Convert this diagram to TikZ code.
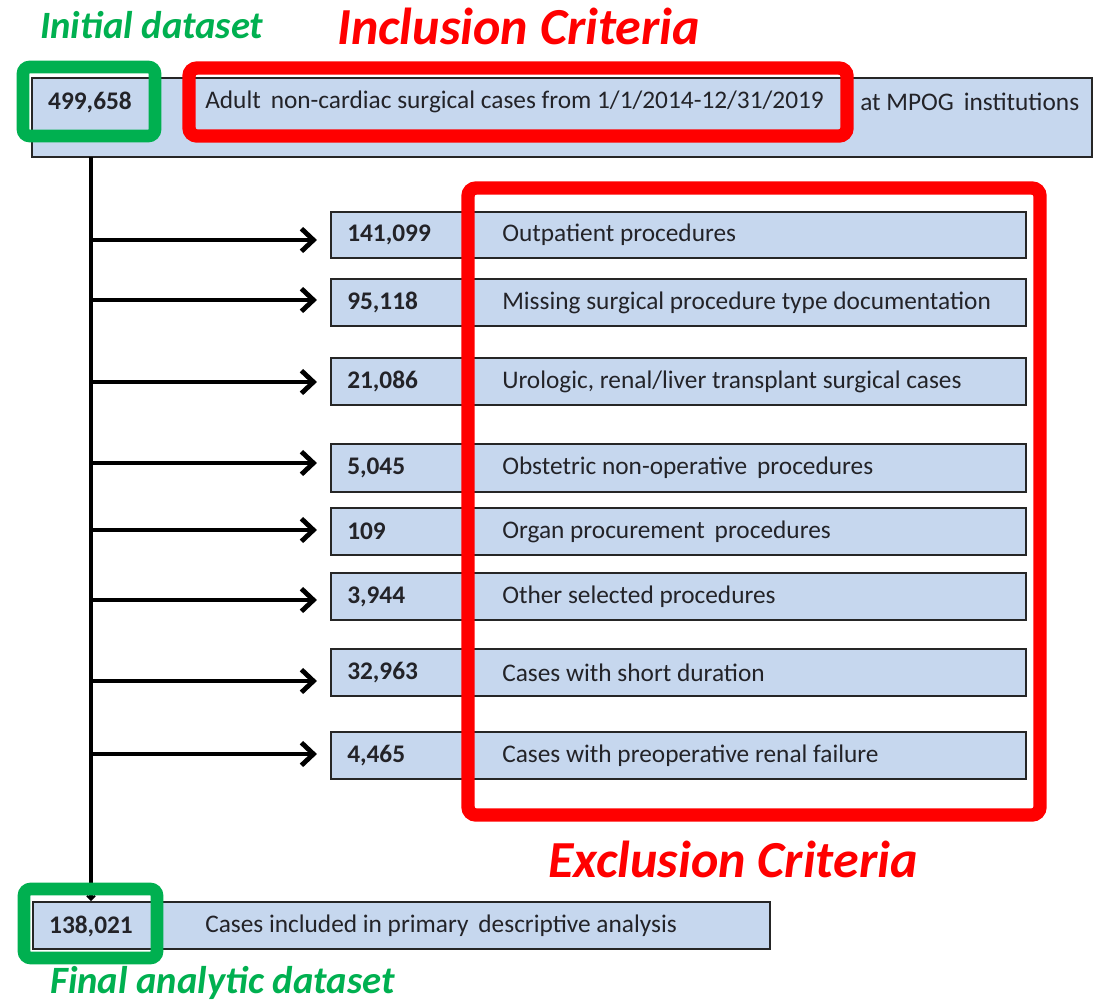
\documentclass[tikz,border=0pt]{standalone}
\usepackage{fontspec}
\setmainfont{Carlito}
\usetikzlibrary{arrows.meta,fit}
\definecolor{boxblue}{RGB}{198,215,238}
\definecolor{mgreen}{RGB}{0,176,80}
\definecolor{mred}{RGB}{255,0,0}
\definecolor{txt}{RGB}{35,35,40}
\begin{document}
\begin{tikzpicture}[x=0.75pt,y=-0.75pt,
  box/.style={draw=black!85, line width=1.1pt, fill=boxblue, inner sep=0pt},
  num/.style={font=\fontsize{19}{22}\selectfont\bfseries, text=txt, inner sep=0pt},
  desc/.style={font=\fontsize{19}{22}\selectfont, text=txt, inner sep=0pt},
  gframe/.style={draw=mgreen, line width=9.5pt, rounded corners=5pt},
  rframe/.style={draw=mred, line width=10pt, rounded corners=6pt},
  arr/.style={line width=3pt, -{Straight Barb[length=9pt,width=17pt,line width=3.6pt]}},
  trunk/.style={line width=3pt, -{Straight Barb[length=3pt,width=6pt,line width=1.5pt]}},
  gtitle/.style={font=\fontsize{29}{34}\selectfont\bfseries\itshape, text=mgreen, inner sep=0pt},
  rtitle/.style={font=\fontsize{39}{44}\selectfont\bfseries\itshape, text=mred, inner sep=0pt}
]
\useasboundingbox (0,0) rectangle (1094,1004);

% top box
\node[box, fit={(32,78) (1092,157)}] (top) {};
\node[num, anchor=center] (topnum) at (90,102) {499,658};
\node[desc, anchor=west] (topdesc) at (205,102) {Adult\, non-cardiac surgical cases from 1/1/2014-12/31/2019};
\node[desc, anchor=west] (topdesc2) at (860,102) {at MPOG\, institutions};

% bottom box
\node[box, fit={(33,902) (770,949)}] (bot) {};
\node[num, anchor=center] (botnum) at (91,926) {138,021};
\node[desc, anchor=west] (botdesc) at (205,926) {Cases included in primary\, descriptive analysis};

% trunk
\coordinate (t0) at (91,157);
\coordinate (t1) at (91,901);
\draw[trunk] (t0) -- (t1);

% rows
\foreach \i/\ty/\by/\ay/\n/\d in {
  1/212/258/240/{141,099}/{Outpatient procedures},
  2/279/326/300/{95,118}/{Missing surgical procedure type documentation},
  3/358/405/382/{21,086}/{Urologic, renal/liver transplant surgical cases},
  4/444/492/463/{5,045}/{Obstetric non-operative\, procedures},
  5/508/555/530/{109}/{Organ procurement\, procedures},
  6/573/620/600/{3,944}/{Other selected procedures},
  7/649/696/681/{32,963}/{Cases with short duration},
  8/732/779/754/{4,465}/{Cases with preoperative renal failure}}{
  \node[box, fit={(331,\ty) (1026,\by)}] (r\i) {};
  \node[num, anchor=west] (n\i) at (347,{(\ty+\by)/2}) {\n};
  \node[desc, anchor=west] (d\i) at (502,{(\ty+\by)/2}) {\d};
  \coordinate (b\i) at (91,\ay);
  \draw[arr, shorten >=10pt] (b\i) -- (b\i -| r\i.west);
}

% frames
\draw[gframe] (23,67) rectangle (155,136);
\draw[rframe] (189,68) rectangle (847,136);
\draw[gframe] (24,889) rectangle (157,958);
\draw[rframe] (468,188) rectangle (1040,815);

% titles
\node[gtitle, anchor=base west] (tinit) at (40,38) {Initial dataset};
\node[rtitle, anchor=base west] (tincl) at (337,44) {Inclusion Criteria};
\node[rtitle, anchor=base west] (texcl) at (548,877) {Exclusion Criteria};
\node[gtitle, anchor=base west] (tfinal) at (50,993) {Final analytic dataset};
\end{tikzpicture}
\end{document}
